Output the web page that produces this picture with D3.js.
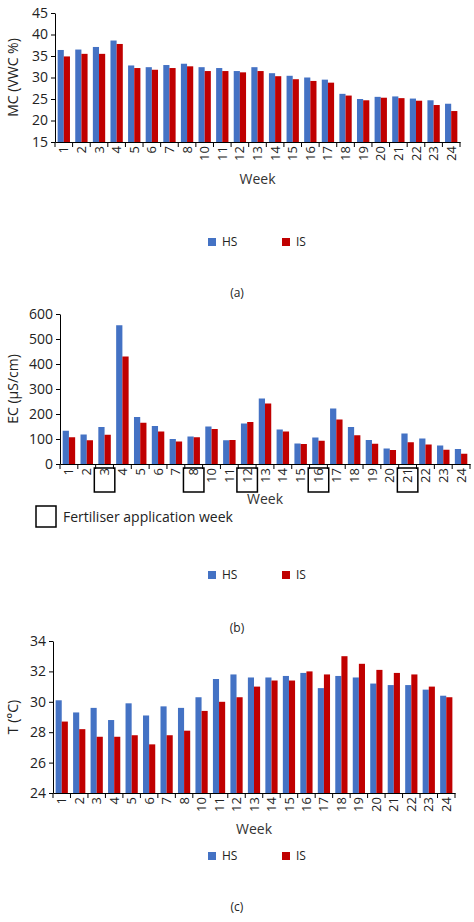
<!DOCTYPE html><html><head><meta charset="utf-8">
<script src="https://cdn.jsdelivr.net/npm/d3@7"></script>
<style>body{margin:0;background:#fff}text{font-family:"Open Sans","Liberation Sans",sans-serif}</style></head><body>
<svg id="s" width="474" height="922"></svg>
<script>
const weeks=["1","2","3","4","5","6","7","8","10","11","12","13","14","15","16","17","18","19","20","21","22","23","24"];
const mcHS=[36.4,36.5,37.1,38.6,32.8,32.4,32.9,33.2,32.4,32.2,31.5,32.4,31.0,30.4,30.0,29.5,26.2,25.0,25.5,25.6,25.1,24.7,23.9];
const mcIS=[34.9,35.5,35.5,37.8,32.2,31.8,32.2,32.6,31.5,31.5,31.2,31.5,30.3,29.6,29.2,28.8,25.8,24.7,25.3,25.2,24.6,23.6,22.2];
const ecHS=[133,118,148,555,188,152,100,110,150,95,162,262,138,82,106,222,148,96,62,122,102,74,60];
const ecIS=[107,95,117,430,165,130,90,107,140,96,168,242,130,80,93,178,115,81,56,87,78,57,41];
const tHS=[30.1,29.3,29.6,28.8,29.9,29.1,29.7,29.6,30.3,31.5,31.8,31.6,31.6,31.7,31.9,30.9,31.7,31.6,31.2,31.1,31.1,30.8,30.4];
const tIS=[28.7,28.2,27.7,27.7,27.8,27.2,27.8,28.1,29.4,30.0,30.3,31.0,31.4,31.4,32.0,31.8,33.0,32.5,32.1,31.9,31.8,31.0,30.3];
const fertWeeks=["3","8","12","16","21"];
const svg=d3.select("#s");
const blue="#4472c4",red="#c00000";
function chart(o){
  const g=svg.append("g");
  const x=d3.scaleBand().domain(weeks).range([o.l,o.r]).paddingInner(0.3).paddingOuter(0.15);
  const y=d3.scaleLinear().domain(o.dom).range([o.b,o.t]);
  const bw=x.bandwidth()/2;
  g.selectAll(".h").data(weeks).join("rect").attr("x",d=>x(d)).attr("width",bw).attr("y",(d,i)=>y(o.hs[i])).attr("height",(d,i)=>o.b-y(o.hs[i])).attr("fill",blue);
  g.selectAll(".i").data(weeks).join("rect").attr("x",d=>x(d)+bw).attr("width",bw).attr("y",(d,i)=>y(o.is[i])).attr("height",(d,i)=>o.b-y(o.is[i])).attr("fill",red);
  const ya=g.append("g").attr("transform",`translate(${o.l},0)`).call(d3.axisLeft(y).tickValues(o.ticks).tickSize(4).tickSizeOuter(0));
  ya.selectAll("text").attr("font-size",14).attr("fill","#222");
  const step=x.step();
  const xa=g.append("g").attr("transform",`translate(0,${o.b})`).call(d3.axisBottom(x).tickSize(0).tickSizeOuter(0).tickPadding(0));
  xa.selectAll(".tick text").attr("transform","rotate(-90)").attr("x",-4).attr("y",0).attr("dy","0.35em").attr("text-anchor","end").attr("font-size",13).attr("fill","#222");
  xa.selectAll(".tk").data(d3.range(weeks.length+1)).join("line").attr("x1",i=>o.l+i*step).attr("x2",i=>o.l+i*step).attr("y1",0).attr("y2",5).attr("stroke","#000");
  g.selectAll("path.domain").attr("stroke","#000");
  g.append("text").attr("x",(o.l+o.r)/2).attr("y",o.wy).attr("text-anchor","middle").attr("font-size",14).attr("fill","#333").text("Week");
  g.append("text").attr("transform",`translate(${o.yl},${(o.t+o.b)/2}) rotate(-90)`).attr("text-anchor","middle").attr("font-size",14).attr("fill","#222").text(o.ylab);
  [[blue,"HS",208],[red,"IS",282]].forEach(([c,t,lx])=>{g.append("rect").attr("x",lx).attr("y",o.ly-8).attr("width",8).attr("height",8).attr("fill",c);g.append("text").attr("x",lx+14).attr("y",o.ly).attr("font-size",12).attr("fill","#222").text(t);});
  g.append("text").attr("x",237).attr("y",o.cy).attr("text-anchor","middle").attr("font-size",12).attr("font-family","Liberation Serif").attr("fill","#222").text(o.cap);
  return {g,x,bw};
}
chart({l:55,r:460,t:13,b:142,dom:[15,45],ticks:[15,20,25,30,35,40,45],hs:mcHS,is:mcIS,wy:184,yl:18,ylab:"MC (VWC %)",ly:246,cy:297,cap:"(a)"});
const b=chart({l:60,r:470,t:314,b:464,dom:[0,600],ticks:[0,100,200,300,400,500,600],hs:ecHS,is:ecIS,wy:504,yl:18,ylab:"EC (µS/cm)",ly:579,cy:632,cap:"(b)"});
const bwid=b.x.step()*1.15;
b.g.selectAll(".fb").data(fertWeeks).join("rect").attr("x",d=>b.x(d)+b.bw-bwid/2).attr("y",468).attr("width",bwid).attr("height",24).attr("fill","none").attr("stroke","#000").attr("stroke-width",1.5);
b.g.append("rect").attr("x",36).attr("y",506).attr("width",20).attr("height",21).attr("fill","none").attr("stroke","#000").attr("stroke-width",1.5);
b.g.append("text").attr("x",63).attr("y",522).attr("font-size",14).attr("fill","#222").text("Fertiliser application week");
chart({l:53,r:455,t:641,b:793,dom:[24,34],ticks:[24,26,28,30,32,34],hs:tHS,is:tIS,wy:834,yl:18,ylab:"T (°C)",ly:860,cy:911,cap:"(c)"});
</script></body></html>
